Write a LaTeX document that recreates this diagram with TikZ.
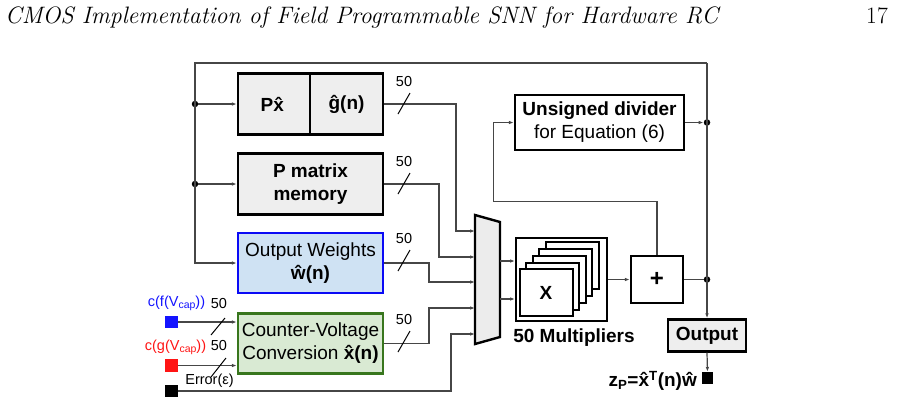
\documentclass[tikz,border=0pt]{standalone}
\usepackage{fontspec}
\usetikzlibrary{arrows.meta}
\newfontfamily\arial{Liberation Sans}
\definecolor{wirecol}{RGB}{70,70,70}
\definecolor{boxgray}{RGB}{238,238,238}
\definecolor{muxgray}{RGB}{236,236,236}
\definecolor{owfill}{RGB}{207,226,243}
\definecolor{owdraw}{RGB}{10,10,245}
\definecolor{cvfill}{RGB}{217,234,211}
\definecolor{cvdraw}{RGB}{56,118,29}
\definecolor{inblue}{RGB}{20,20,255}
\definecolor{inred}{RGB}{255,20,20}
\begin{document}
\begin{tikzpicture}[x=1pt,y=-1pt,
  box/.style={draw=black, line width=2.4pt, fill=boxgray, inner sep=0pt, align=center,
              font=\arial\fontsize{19}{23}\selectfont},
  wire/.style={draw=wirecol, line width=1.2pt},
  arr/.style={wire, -{Latex[length=5pt,width=3.6pt]}},
  dot/.style={circle, fill=black, inner sep=0pt, minimum size=6.5pt},
  lbl/.style={font=\arial\fontsize{14.5}{16}\selectfont, inner sep=0pt},
  slash/.style={draw=black, line width=1pt},
  sq/.style={draw=none, inner sep=0pt, minimum width=12.5pt, minimum height=12.5pt},
  mbox/.style={draw=black, line width=2pt, fill=white, inner sep=0pt, minimum width=53pt, minimum height=47pt}]
\useasboundingbox (0,0) rectangle (898,405);

% header
\node[anchor=base west, inner sep=0pt] (hdr) at (5,23)
  {\resizebox{713pt}{!}{\fontsize{22}{26}\selectfont\itshape CMOS Implementation of Field Programmable SNN for Hardware RC}};
\node[anchor=base east, inner sep=0pt, font=\fontsize{23.5}{27}\selectfont] (pg) at (888,23) {17};

% boxes
\node[box, minimum width=72pt, minimum height=61pt] (px) at (274,104) {\textbf{Px̂}};
\node[box, minimum width=73pt, minimum height=61pt] (gn) at (346.5,104) {\textbf{ĝ(n)}};
\node[box, minimum width=145pt, minimum height=61pt] (pm) at (310.5,184) {\textbf{P matrix}\\\textbf{memory}};
\node[box, draw=owdraw, fill=owfill, minimum width=145pt, minimum height=60pt] (ow) at (310.5,263)
  {Output Weights\\\textbf{ŵ(n)}};
\node[box, draw=cvdraw, fill=cvfill, minimum width=145pt, minimum height=60pt] (cv) at (310.5,343.5)
  {Counter-Voltage\\Conversion \textbf{x̂(n)}};
\node[box, fill=white, minimum width=169pt, minimum height=55pt] (div) at (599.5,122.5)
  {\textbf{Unsigned divider}\\for Equation (6)};
\node[box, fill=white, minimum width=52pt, minimum height=47pt, font=\arial\bfseries\fontsize{24}{26}\selectfont] (plus) at (657,279.5) {+};
\node[box, minimum width=78pt, minimum height=32pt] (out) at (707,335.5) {\textbf{Output}};

% multipliers
\node[box, fill=white, line width=2pt, minimum width=91pt, minimum height=83pt] (mult) at (561.5,279.5) {};
\foreach \k in {4,3,2,1} {
  \node[mbox] (mb\k) at ({546+6.5*\k},{292.75-6.75*\k}) {};
}
\node[mbox, font=\arial\bfseries\fontsize{19}{22}\selectfont] (mb0) at (546,292.75) {X};
\node[font=\arial\bfseries\fontsize{19}{22}\selectfont, inner sep=0pt] (mlab) at (574,338) {50 Multipliers};

% mux
\draw[line width=2.4pt, fill=muxgray, line join=miter] (475,215) -- (500,222) -- (500,337) -- (475,344) -- cycle;
\coordinate (m1) at (475,231);
\coordinate (m2) at (475,257);
\coordinate (m3) at (475,282);
\coordinate (m4) at (475,308);
\coordinate (m5) at (475,334);
\coordinate (o1) at (500,261);
\coordinate (o2) at (500,299);

% bus
\coordinate (tl) at (195,63);
\coordinate (tr) at (707,63);
\node[dot] (d1) at (tl |- px.west) {};
\node[dot] (d2) at (tl |- pm.west) {};
\node[dot] (d3) at (tr |- div.east) {};
\node[dot] (d4) at (tr |- plus.east) {};
\draw[arr] (tr) -- (tl) -- (tl |- ow.west) -- (ow.west);
\draw[arr] (tr) -- (out.north);
\draw[arr] (d1) -- (px.west);
\draw[arr] (d2) -- (pm.west);
\draw[arr] (div.east) -- (d3);
\draw[wire] (plus.east) -- (d4);

% to mux
\draw[arr] (gn.east) -| ([xshift=-19pt]m1) -- (m1);
\draw[arr] (pm.east) -| ([xshift=-36pt]m2) -- (m2);
\draw[arr] (ow.east) -| ([xshift=-46pt]m3) -- (m3);
\draw[arr] (cv.east) -| ([xshift=-46pt]m4) -- (m4);

% mux out
\draw[arr] (o1) -- (o1 -| mult.west);
\draw[arr] (o2) -- (o2 -| mult.west);
\draw[arr] (mult.east) -- (plus.west);
\draw[arr] (plus.north) -- ++(0,-53) -| ([xshift=-20pt]div.west) -- (div.west);

% output
\node[sq, fill=black, minimum width=11pt, minimum height=12pt] (zsq) at (707.5,378) {};
\draw[arr] (out.south) -- (zsq.north);
\node[anchor=east, inner sep=0pt, font=\arial\bfseries\fontsize{19}{22}\selectfont] (zlab) at (697,381)
  {z\textsubscript{P}=x̂\textsuperscript{T}(n)ŵ};

% bus width labels
\foreach \yy/\nm in {82/a,162/b,239/c,320/d} {
  \node[lbl] (w\nm) at (404,\yy) {50};
  \draw[slash] (398,\yy+32) -- (410,\yy+11);
}

% inputs
\node[sq, fill=inblue] (bsq) at (171.5,322) {};
\node[sq, fill=inred] (rsq) at (171.5,365.5) {};
\node[sq, fill=black] (ksq) at (171.5,391) {};
\draw[arr] (bsq.east) -- (bsq -| cv.west);
\draw[arr] (rsq.east) -- (rsq -| cv.west);
\draw[arr] (ksq.east) -| ([xshift=-24pt]m5) -- (m5);
\node[lbl, text=inblue] (bl) at (176.5,303) {c(f(V\raisebox{-0.25ex}{\fontsize{10.5}{12}\selectfont cap}))};
\node[lbl, text=inred] (rl) at (175.5,347) {c(g(V\raisebox{-0.25ex}{\fontsize{10.5}{12}\selectfont cap}))};
\node[lbl] (bn) at (219,304) {50};
\node[lbl] (rn) at (219,346) {50};
\node[lbl] (el) at (209.5,381) {Error(ε)};
\draw[slash] (211,335) -- (225,318);
\draw[slash] (211,377) -- (226,358);
\end{tikzpicture}
\end{document}
